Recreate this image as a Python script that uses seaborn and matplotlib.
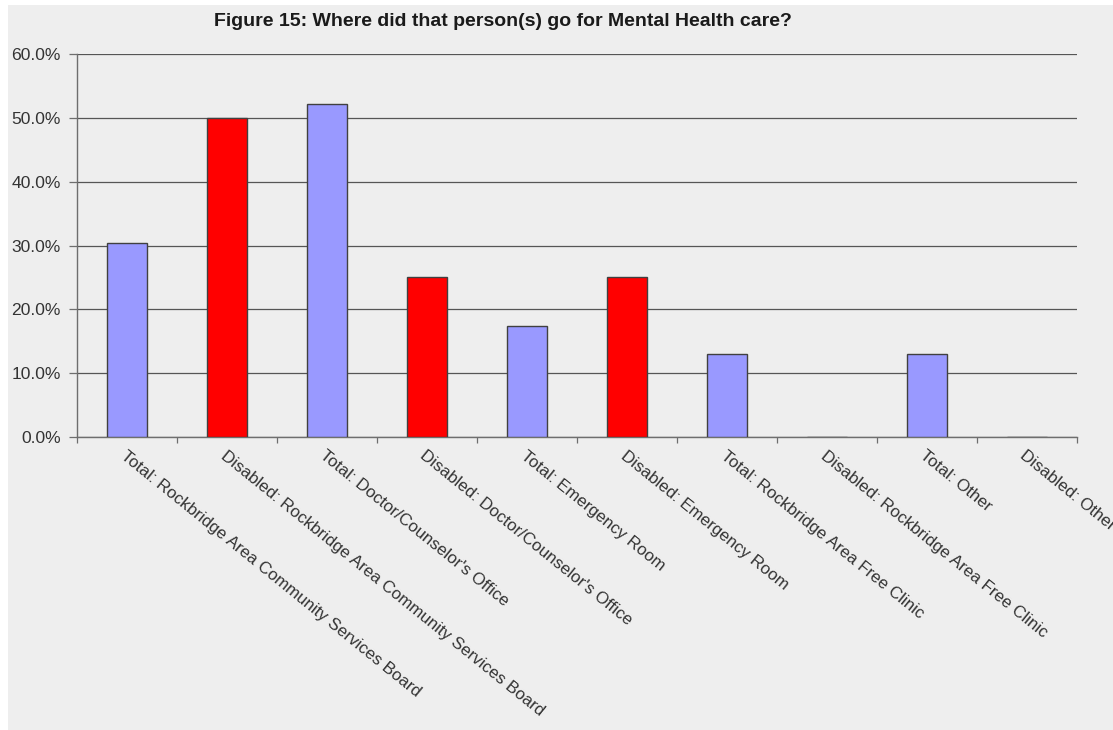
import matplotlib
matplotlib.use("Agg")
import matplotlib.pyplot as plt
import matplotlib.ticker as mticker
from matplotlib.patches import Rectangle
import seaborn as sns
import pandas as pd

categories = [
    "Total: Rockbridge Area Community Services Board",
    "Disabled: Rockbridge Area Community Services Board",
    "Total: Doctor/Counselor's Office",
    "Disabled: Doctor/Counselor's Office",
    "Total: Emergency Room",
    "Disabled: Emergency Room",
    "Total: Rockbridge Area Free Clinic",
    "Disabled: Rockbridge Area Free Clinic",
    "Total: Other",
    "Disabled: Other",
]
groups = ["Total", "Disabled"] * 5
values = [30.4, 50.0, 52.2, 25.0, 17.4, 25.0, 13.0, 0.0, 13.0, 0.0]
title = "Figure 15: Where did that person(s) go for Mental Health care?"

df = pd.DataFrame({"category": categories, "group": groups, "value": values})

sns.set_theme(style="white")
plt.rcParams["font.family"] = ["Liberation Sans", "DejaVu Sans"]

W, H = 1113, 730
bg = "#eeeeee"
fig = plt.figure(figsize=(W / 100, H / 100), dpi=100, facecolor=bg)
# thin white margins on the top and left edges
fig.patches.append(Rectangle((0, 0), 8 / W, 1, transform=fig.transFigure,
                             facecolor="white", edgecolor="none", zorder=-5))
fig.patches.append(Rectangle((0, 1 - 5 / H), 1, 5 / H, transform=fig.transFigure,
                             facecolor="white", edgecolor="none", zorder=-5))

ax = fig.add_axes([77 / W, 1 - 437 / H, 1000 / W, 383 / H])
ax.set_facecolor(bg)

sns.barplot(data=df, x="category", y="value", hue="group",
            palette={"Total": "#9999ff", "Disabled": "#ff0000"},
            saturation=1, dodge=False, width=0.4, edgecolor="#404040",
            linewidth=1.0, legend=False, ax=ax, zorder=3)

ax.set_xlim(-0.5, len(categories) - 0.5)
ax.set_ylim(0, 60)
ax.set_yticks(range(0, 61, 10))
ax.yaxis.set_major_formatter(mticker.FuncFormatter(lambda v, p: f"{v:.1f}%"))
ax.set_xlabel("")
ax.set_ylabel("")

ax.yaxis.grid(True, color="#555555", linewidth=0.9, zorder=1)
ax.set_axisbelow(True)

for s in ("top", "right"):
    ax.spines[s].set_visible(False)
for s in ("left", "bottom"):
    ax.spines[s].set_color("#6e6e6e")
    ax.spines[s].set_linewidth(1.0)

ax.tick_params(axis="y", which="major", length=5.8, width=0.9, color="#6e6e6e",
               labelsize=12.6, labelcolor="#333333", pad=5.8, left=True)

# category boundary ticks along the x axis
ax.set_xticks([i - 0.5 for i in range(len(categories) + 1)], minor=True)
ax.tick_params(axis="x", which="minor", length=4.3, width=0.9, color="#6e6e6e",
               bottom=True)
ax.tick_params(axis="x", which="major", length=0, pad=8)
ax.set_xticks(range(len(categories)))
ax.set_xticklabels(categories, rotation=-39, ha="left", va="top",
                   rotation_mode="anchor", fontsize=12.2, color="#333333")

fig.text(503 / W, 1 - 22 / H, title, ha="center", va="center",
         fontsize=14, fontweight="bold", color="#1a1a1a")

fig.savefig("out.png", dpi=100, facecolor=bg)
